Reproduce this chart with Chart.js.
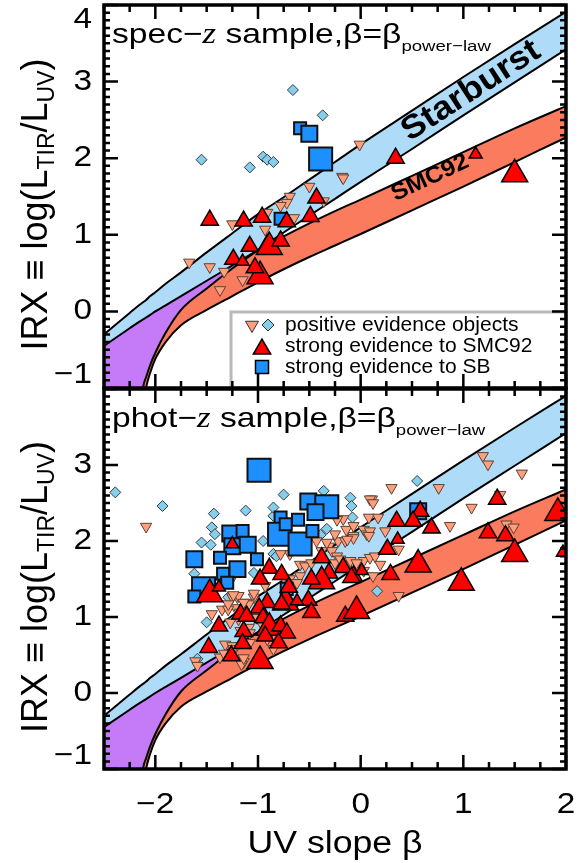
<!DOCTYPE html>
<html>
<head>
<meta charset="utf-8">
<script src="https://cdn.jsdelivr.net/npm/chart.js@4.4.1/dist/chart.umd.min.js"></script>
<style>
  body { margin: 0; background: #fff; }
  #wrap { position: relative; width: 585px; height: 863px; }
  canvas { position: absolute; left: 0; }
</style>
</head>
<body>
<div id="wrap">
  <canvas id="specz" width="585" height="392" style="top:0px"></canvas>
  <canvas id="photz" width="585" height="477" style="top:386px"></canvas>
</div>
<script>
// axis ranges and tick labels
const xMajor = [-2, -1, 0, 1, 2];
const yMajor = [-1, 0, 1, 2, 3, 4];

// IRX-beta relations (Starburst and SMC92 bands)
const bandBeta = [-2.5, -2.25, -2.15, -2.12, -2.09, -2.05, -2.0, -1.9, -1.75, -1.5, -1.25, -1.0, -0.75, -0.5, -0.25, 0, 0.5, 1, 1.5, 2];
const sbUpper  = [-0.30, -0.02, 0.09, 0.12, 0.15, 0.20, 0.25, 0.36, 0.51, 0.77, 1.02, 1.27, 1.49, 1.72, 1.95, 2.18, 2.62, 3.06, 3.49, 3.91];
const sbLower  = [-3.0, -2.2, -1.5, -1.0, -0.86, -0.70, -0.54, -0.28, 0.02, 0.30, 0.56, 0.80, 1.03, 1.25, 1.47, 1.69, 2.12, 2.56, 2.99, 3.42];
const smcUpper = [-0.45, -0.22, -0.13, -0.105, -0.08, -0.045, 0.0, 0.08, 0.20, 0.40, 0.60, 0.80, 0.98, 1.15, 1.31, 1.46, 1.77, 2.08, 2.39, 2.68];
const smcLower = [-3.0, -2.2, -1.6, -1.3, -1.0, -0.80, -0.62, -0.40, -0.18, 0.02, 0.20, 0.38, 0.55, 0.71, 0.86, 1.01, 1.32, 1.63, 1.95, 2.27];

// spec-z sample
const specPosBeta = [-0.01, -0.18, -0.17, -0.50, -0.69, -0.72, -0.78, -0.36, -0.65, -0.91, -1.25, -1.67, -1.47, -1.33, -1.15, -1.37, -0.93];
const specPosIrx  = [2.18, 1.76, 1.74, 1.63, 1.50, 1.42, 1.38, 1.44, 1.22, 1.29, 1.14, 0.64, 0.58, 0.52, 0.41, 0.28, 1.07];
const specDiaBeta = [-1.55, -1.08, -0.95, -0.91, -0.85, -0.66, -0.37];
const specDiaIrx  = [1.98, 1.88, 2.02, 1.98, 1.95, 2.89, 2.56];
const specSmcBeta  = [-1.47, -1.14, -0.96, -0.72, -0.43, -0.49, -1.08, -0.91, -0.89, -0.78, -1.24, -1.15, -0.98, -1.03, 0.34, 1.12, 1.50];
const specSmcIrx   = [1.19, 1.18, 1.23, 1.17, 1.48, 1.24, 0.85, 0.87, 0.84, 0.92, 0.68, 0.65, 0.46, 0.57, 2.00, 2.05, 1.79];
const specSmcLevel = [2, 2, 2, 2, 2, 2, 2, 2, 3, 2, 2, 1, 3, 2, 2, 1, 3];
const specSbBeta  = [-0.59, -0.50, -0.39, -0.78];
const specSbIrx   = [2.39, 2.32, 1.99, 1.21];
const specSbLevel = [1, 2, 3, 1];

// phot-z sample
const photPosBeta = [-2.09, -1.27, -1.25, -1.20, -1.04, -1.11, -1.22, -1.35, -1.29, -1.45, -1.19, -1.01, -1.09, -1.32, -1.25, -1.24, -1.61, -1.59, -1.37, -1.14, -1.24, -1.33, -1.19, -1.24, -1.04, -1.29,
  0.11, 0.03, 0.06, 0.09, -0.07, -0.14, -0.22, -0.31, -0.17, -0.23, -0.28, -0.23, -0.38, -0.69, -0.78, -0.59, -0.54, -0.48, -0.35, -0.25, -0.10, 0.03, 0.09, 0.14, -0.59, -0.69, -0.62, -0.75, -1.09, -1.14, -0.93, -1.18, -1.27, -1.17, -1.08, -0.96, -1.08, -0.85, -0.91, -1.16, -1.14, -0.78, -0.43, -0.33, -0.15, -0.07,
  1.19, 1.24, 1.57, 0.30, 0.76, 0.09, 0.12, 1.08, 0.87, 1.36, 1.42, 1.49, 0.08, 0.17, -0.07, 0.08, 0.24, 0.37, 0.19, -0.13, -0.20, -0.10, -0.04, 0.03, 0.12, 0.37, -0.25];
const photPosIrx  = [2.19, 1.47, 1.26, 1.26, 1.26, 1.19, 1.12, 1.10, 1.10, 1.04, 0.97, 0.99, 0.86, 0.64, 0.62, 0.55, 0.42, 0.36, 0.47, 0.41, 0.58, 0.52, 1.28, 1.29, 1.31, 1.17,
  2.55, 2.15, 2.09, 2.13, 2.07, 2.15, 2.00, 1.93, 2.29, 2.28, 1.87, 1.80, 1.87, 1.83, 1.83, 1.69, 1.67, 1.71, 1.54, 1.71, 1.69, 1.74, 1.78, 1.80, 1.54, 1.50, 1.45, 1.52, 1.17, 1.19, 1.41, 1.06, 0.93, 0.82, 0.79, 0.90, 0.66, 0.58, 0.71, 0.38, 0.46, 0.84, 2.00, 1.98, 2.00, 2.04,
  3.12, 3.01, 2.89, 2.70, 2.70, 2.55, 2.50, 2.44, 2.20, 2.61, 2.22, 2.18, 2.31, 2.31, 2.20, 2.07, 2.13, 1.89, 1.69, 2.02, 1.76, 1.74, 1.71, 1.61, 1.54, 1.28, 2.09];
const photDiaBeta = [-2.39, -1.93, -1.43, -1.12, -0.75, -1.45, -1.42, -1.55, -1.46, -1.62, -0.85, -0.95, -1.50, -1.29, -0.36, -0.10, -0.09, -0.08, -0.33, -0.39, -0.85, -0.82, 0.16, -1.59, 0.55, -1.04, -0.85, -0.77];
const photDiaIrx  = [2.64, 2.46, 2.36, 2.40, 2.61, 2.18, 2.09, 1.98, 1.95, 1.57, 1.83, 2.00, 0.93, 1.26, 2.66, 2.57, 2.46, 2.31, 2.16, 2.08, 2.33, 1.80, 1.34, 0.45, 2.79, 1.58, 2.44, 2.31];
const photSmcBeta  = [-1.25, -1.47, -1.38, -0.89, -0.98, -0.77, -0.73, -0.91, -0.99, -0.95, -1.17, -1.38, -0.89, -1.14, -1.48, -1.26, -1.15, -0.98, -1.11, -0.78, -0.72, -0.93, -0.80, -0.77, -0.70, -0.38, -0.31, -0.17, -0.07, 0.01, -0.38, -0.51, -0.62, -0.48, -0.15, -0.04, -0.09, -0.48,
  1.33, 0.58, 0.51, 0.35, 0.69, 0.36, 0.26, 0.56, 0.29, 0.98, 1.24, 1.41, 1.50, 1.92, 1.97];
const photSmcIrx   = [1.96, 1.30, 1.39, 1.64, 1.50, 1.56, 1.19, 1.19, 1.12, 0.99, 1.04, 0.88, 0.86, 0.81, 0.60, 0.49, 0.65, 0.42, 1.01, 0.88, 0.79, 0.75, 0.66, 1.17, 1.39, 1.78, 1.58, 1.65, 1.54, 1.61, 1.47, 1.22, 1.21, 1.06, 1.01, 1.08, 1.52, 1.50,
  2.55, 2.39, 2.26, 2.26, 2.17, 2.02, 1.89, 1.69, 1.56, 1.45, 2.11, 2.07, 1.83, 2.37, 1.85];
const photSmcLevel = [1, 3, 1, 2, 2, 2, 3, 2, 2, 2, 2, 2, 3, 2, 2, 2, 2, 3, 2, 2, 2, 2, 2, 2, 2, 2, 2, 2, 2, 1, 3, 2, 1, 2, 2, 3, 2, 2,
  2, 2, 2, 2, 2, 1, 2, 3, 2, 3, 2, 2, 3, 3, 1];
const photSbBeta  = [-0.99, -0.78, -0.79, -1.27, -1.15, -1.25, -1.10, -1.01, -1.62, -1.37, -1.20, -1.34, -1.53, -1.30, -0.51, -0.33, -0.44, -0.61, -0.59, -0.47, -0.73, -0.72, 0.56, -1.62];
const photSbIrx   = [2.93, 2.31, 2.09, 2.10, 2.13, 1.93, 1.95, 1.76, 1.76, 1.78, 1.63, 1.57, 1.37, 1.45, 2.52, 2.45, 2.38, 2.28, 1.96, 2.13, 2.22, 1.37, 2.39, 1.27];
const photSbLevel = [3, 1, 3, 2, 1, 2, 2, 1, 2, 1, 2, 1, 3, 1, 2, 3, 2, 1, 3, 1, 1, 1, 2, 1];

const SANS = '"Liberation Sans", "DejaVu Sans", Arial, sans-serif';
const SERIF = '"Liberation Serif", "DejaVu Serif", serif';
const C_SB = '#aedcf8', C_SMC = '#fa7b5d', C_BOTH = '#c57bf8';
const C_SQ = '#1e8fff', C_TRI = '#ff0000', C_POS = '#ffa07a', C_DIA = '#87ceeb';

const pts = (bs, ys) => bs.map((b, i) => ({x: b, y: ys[i]}));
const triR = [0, 7.5, 10, 15];
const sqR = [0, 8.5, 11.3, 16.3];

// text in several runs (sub/superscripts), optional rotation and horizontal stretch
function textRun(ctx, parts, x, y, opt) {
  opt = opt || {};
  ctx.save();
  ctx.translate(x, y);
  if (opt.rot) ctx.rotate(opt.rot);
  ctx.scale(opt.sx || 1, 1);
  let w = 0;
  parts.forEach(p => { ctx.font = p.font; p.w = ctx.measureText(p.t).width; w += p.w; });
  let cx = opt.align === 'center' ? -w / 2 : opt.align === 'right' ? -w : 0;
  ctx.textAlign = 'left';
  ctx.textBaseline = opt.baseline || 'alphabetic';
  ctx.fillStyle = '#000';
  parts.forEach(p => { ctx.font = p.font; ctx.fillText(p.t, cx, p.dy || 0); cx += p.w; });
  ctx.restore();
}

const num = v => (v < 0 ? '\u2212' : '') + Math.abs(v);

function tri(ctx, x, y, r, down) {
  const s = down ? -1 : 1;
  ctx.beginPath();
  ctx.moveTo(x, y - s * r);
  ctx.lineTo(x + 0.866 * r, y + s * r / 2);
  ctx.lineTo(x - 0.866 * r, y + s * r / 2);
  ctx.closePath();
  ctx.fill(); ctx.stroke();
}

const panelAxes = {
  id: 'panelAxes',
  afterDatasetsDraw(chart, args, o) {
    const ctx = chart.ctx, a = chart.chartArea;
    if (o.bandLabels) {
      textRun(ctx, [{t: 'Starburst', font: `bold 33px ${SANS}`}], 471, 91,
        {rot: -33 * Math.PI / 180, align: 'center', baseline: 'middle', sx: 1.08});
      textRun(ctx, [{t: 'SMC92', font: `bold 23px ${SANS}`}], 430, 178,
        {rot: -25 * Math.PI / 180, align: 'center', baseline: 'middle', sx: 1.08});
    }
    if (o.legend) {
      const lx = a.left + 127, ly = a.top + 307;
      ctx.save();
      ctx.fillStyle = '#fff';
      ctx.fillRect(lx, ly, a.right - lx, a.bottom - ly);
      ctx.strokeStyle = '#b9b9b9';
      ctx.lineWidth = 3;
      ctx.strokeRect(lx, ly, a.right - lx, a.bottom - ly);
      ctx.strokeStyle = '#333'; ctx.lineWidth = 1;
      ctx.fillStyle = C_POS; tri(ctx, lx + 21, ly + 13, 7.5, true);
      ctx.fillStyle = C_DIA;
      ctx.beginPath();
      ctx.moveTo(lx + 31, ly + 13); ctx.lineTo(lx + 37, ly + 7); ctx.lineTo(lx + 43, ly + 13); ctx.lineTo(lx + 37, ly + 19);
      ctx.closePath(); ctx.fill(); ctx.stroke();
      ctx.strokeStyle = '#000'; ctx.lineWidth = 1.5;
      ctx.fillStyle = C_TRI; tri(ctx, lx + 31, ly + 37, 10, false);
      ctx.fillStyle = C_SQ;
      ctx.fillRect(lx + 24.5, ly + 48.5, 13, 13); ctx.strokeRect(lx + 24.5, ly + 48.5, 13, 13);
      ctx.restore();
      const f = `21px ${SANS}`;
      textRun(ctx, [{t: 'positive evidence objects', font: f}], lx + 54, ly + 19);
      textRun(ctx, [{t: 'strong evidence to SMC92', font: f}], lx + 54, ly + 40);
      textRun(ctx, [{t: 'strong evidence to SB', font: f}], lx + 54, ly + 61);
    }
  },
  afterDraw(chart, args, o) {
    const ctx = chart.ctx, a = chart.chartArea, x = chart.scales.x, y = chart.scales.y;
    ctx.save();
    ctx.strokeStyle = '#000';
    ctx.lineWidth = 2.5;
    ctx.beginPath();
    for (let k = 0; k <= 18; k++) {
      const v = -2.5 + 0.25 * k, px = x.getPixelForValue(v);
      const len = k % 4 === 2 ? 14 : 7;
      ctx.moveTo(px, a.bottom); ctx.lineTo(px, a.bottom - len);
      ctx.moveTo(px, a.top); ctx.lineTo(px, a.top + len);
    }
    for (let k = 0; k <= 50; k++) {
      const py = y.getPixelForValue(-1 + 0.1 * k);
      const len = k % 10 === 0 ? 14 : 6;
      ctx.moveTo(a.left, py); ctx.lineTo(a.left + len, py);
      ctx.moveTo(a.right, py); ctx.lineTo(a.right - len, py);
    }
    ctx.stroke();
    ctx.lineWidth = 3.5;
    ctx.strokeRect(a.left, a.top, a.right - a.left, a.bottom - a.top);
    ctx.restore();

    yMajor.forEach(v => {
      if ((o.skipY || []).includes(v)) return;
      const py = Math.min(Math.max(y.getPixelForValue(v), a.top + 15), a.bottom - 13);
      textRun(ctx, [{t: num(v), font: `29px ${SANS}`}], a.left - 12, py, {align: 'right', baseline: 'middle', sx: 1.15});
    });
    if (o.xLabels) {
      xMajor.forEach(v => {
        textRun(ctx, [{t: num(v), font: `29px ${SANS}`}], x.getPixelForValue(v), a.bottom + 36, {align: 'center', baseline: 'middle', sx: 1.15});
      });
      textRun(ctx, [{t: 'UV slope \u03b2', font: `31px ${SANS}`}], (a.left + a.right) / 2, a.bottom + 84, {align: 'center', sx: 1.15});
    }

    // panel caption
    const f = `28px ${SANS}`;
    textRun(ctx, [
      {t: o.caption + '\u2212', font: f},
      {t: 'z', font: `italic 29px ${SERIF}`},
      {t: ' sample,\u03b2=\u03b2', font: f},
      {t: 'power\u2212law', font: `15.5px ${SANS}`, dy: 8}
    ], a.left + 8, a.top + 38, {sx: 1.2});

    // y title
    const big = `36px ${SANS}`, sub = `23px ${SANS}`;
    textRun(ctx, [
      {t: 'IRX \u2261 log(L', font: big},
      {t: 'TIR', font: sub, dy: 7},
      {t: '/L', font: big},
      {t: 'UV', font: sub, dy: 7},
      {t: ')', font: big}
    ], 47, (a.top + a.bottom) / 2 + 8, {rot: -Math.PI / 2, align: 'center'});
  }
};

function markerSets(pos, dia, smc, sb) {
  return [
    {data: pts(smc[0], smc[1]), showLine: false, pointStyle: 'triangle',
     pointRadius: smc[2].map(l => triR[l]), pointBackgroundColor: C_TRI, pointBorderColor: '#000', pointBorderWidth: 1.5},
    {data: pts(sb[0], sb[1]), showLine: false, pointStyle: 'rect',
     pointRadius: sb[2].map(l => sqR[l]), pointBackgroundColor: C_SQ, pointBorderColor: '#111', pointBorderWidth: 2},
    {data: pts(pos[0], pos[1]), showLine: false, pointStyle: 'triangle', pointRotation: 180,
     pointRadius: 6.5, pointBackgroundColor: C_POS, pointBorderColor: '#5a4038', pointBorderWidth: 1},
    {data: pts(dia[0], dia[1]), showLine: false, pointStyle: 'rectRot',
     pointRadius: 5.5, pointBackgroundColor: C_DIA, pointBorderColor: '#2f3f48', pointBorderWidth: 1}
  ];
}

function bandSets() {
  const n = bandBeta.indexOf(-1.0) + 1;
  const curve = {pointRadius: 0, borderColor: '#000', borderWidth: 2, cubicInterpolationMode: 'monotone'};
  return [
    // overlap of both bands
    {...curve, borderWidth: 0, data: pts(bandBeta.slice(0, n), smcUpper.slice(0, n)), fill: 5, backgroundColor: C_BOTH},
    {...curve, borderWidth: 0, data: pts(bandBeta.slice(0, n), sbLower.slice(0, n)), fill: false},
    {...curve, data: pts(bandBeta, sbUpper), fill: 7, backgroundColor: C_SB},
    {...curve, data: pts(bandBeta, sbLower), fill: false},
    {...curve, data: pts(bandBeta, smcUpper), fill: 9, backgroundColor: C_SMC},
    {...curve, data: pts(bandBeta, smcLower), fill: false}
  ];
}

function makePanel(id, datasets, padding, panel) {
  return new Chart(document.getElementById(id), {
    type: 'line',
    data: {datasets: datasets},
    options: {
      responsive: false,
      animation: false,
      events: [],
      layout: {padding: padding, autoPadding: false},
      scales: {
        x: {type: 'linear', min: -2.5, max: 2, display: false},
        y: {type: 'linear', min: -1, max: 4, display: false}
      },
      plugins: {
        legend: {display: false},
        tooltip: {enabled: false},
        filler: {drawTime: 'beforeDatasetsDraw'},
        panelAxes: panel
      }
    },
    plugins: [panelAxes]
  });
}

makePanel('specz',
  [...markerSets([specPosBeta, specPosIrx], [specDiaBeta, specDiaIrx], [specSmcBeta, specSmcIrx, specSmcLevel], [specSbBeta, specSbIrx, specSbLevel]), ...bandSets()],
  {left: 104, right: 19, top: 5, bottom: 4},
  {caption: 'spec', bandLabels: true, legend: true, xLabels: false, skipY: []});

makePanel('photz',
  [...markerSets([photPosBeta, photPosIrx], [photDiaBeta, photDiaIrx], [photSmcBeta, photSmcIrx, photSmcLevel], [photSbBeta, photSbIrx, photSbLevel]), ...bandSets()],
  {left: 104, right: 19, top: 3, bottom: 94},
  {caption: 'phot', bandLabels: false, legend: false, xLabels: true, skipY: [4]});
</script>
</body>
</html>
